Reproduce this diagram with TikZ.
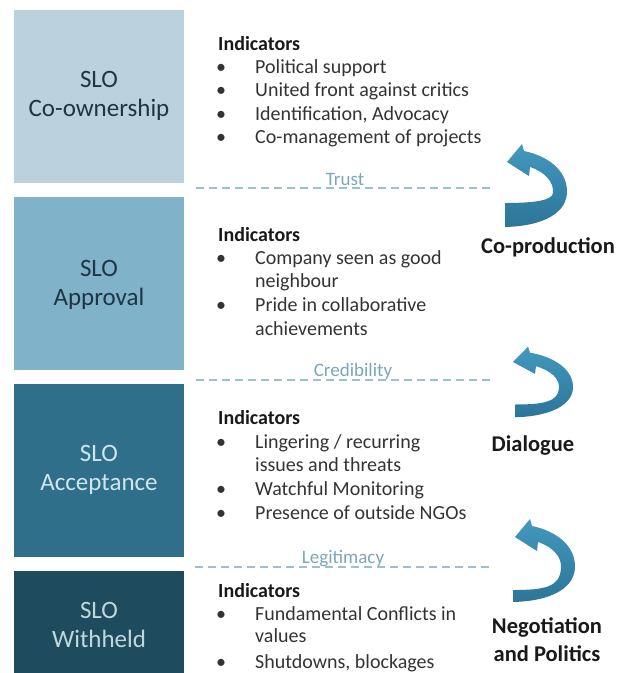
\documentclass[tikz,border=0pt]{standalone}
\usepackage{fontspec}
\setmainfont{Carlito}
\usepackage{tikz}

\definecolor{slo1}{HTML}{BBD2DE}
\definecolor{slo2}{HTML}{80B2C9}
\definecolor{slo3}{HTML}{2F6F89}
\definecolor{slo4}{HTML}{1E4B5D}
\definecolor{darktext}{HTML}{1E3644}
\definecolor{lighttext}{HTML}{CDE6EF}
\definecolor{sepline}{HTML}{9CC0D2}
\definecolor{septext}{HTML}{7AA6BC}
\definecolor{swirltop}{HTML}{4299BE}
\definecolor{swirlbot}{HTML}{2C7599}

\newcommand{\bul}{\makebox[33pt][l]{\kern-6pt\textbullet}}

\begin{document}
\begin{tikzpicture}[x=1pt,y=-1pt]
        \tikzstyle{box}=[minimum width=170pt,minimum height=173pt,inner sep=0pt]
        \tikzstyle{boxtext}=[align=center,font=\fontsize{25}{29}\selectfont]
        \tikzstyle{head}=[anchor=base west,inner sep=0pt,font=\fontsize{20}{23}\selectfont\bfseries,text=black!90]
        \tikzstyle{item}=[anchor=base west,inner sep=0pt,font=\fontsize{20}{23}\selectfont,text=black!80]
        \tikzstyle{sep}=[draw=sepline,line width=1.3pt,dash pattern=on 8pt off 5pt]
        \tikzstyle{level}=[anchor=base,inner sep=0pt,font=\fontsize{19}{22}\selectfont,text=septext]
        \tikzstyle{mode}=[anchor=base,inner sep=0pt,align=center,font=\fontsize{22.5}{28}\selectfont\bfseries,text=black!90]
        \tikzstyle{swirl}=[top color=swirltop,bottom color=swirlbot,draw=none]

        \useasboundingbox (0,0) rectangle (621,673);
        \clip (0,0) rectangle (621,673);

        % SLO levels
        \node[box,fill=slo1](b1) at (99,96.5){};
        \node[box,fill=slo2](b2) at (99,283.5){};
        \node[box,fill=slo3](b3) at (99,470){};
        \node[box,fill=slo4](b4) at (99,657.5){};

        \node[boxtext,text=darktext](s1) at (99,96){SLO\\Co-ownership};
        \node[boxtext,text=darktext](s2) at (99,285){SLO\\Approval};
        \node[boxtext,text=lighttext](s3) at (99,470){SLO\\Acceptance};
        \node[boxtext,text=lighttext!85!gray](s4) at (99,625){SLO\\Withheld};

        % indicators
        \node[head](h1) at (218,50){Indicators};
        \node[item](i11) at (222,73){\bul Political support};
        \node[item](i12) at (222,96){\bul United front against critics};
        \node[item](i13) at (222,120){\bul Identification, Advocacy};
        \node[item](i14) at (222,143){\bul Co-management of projects};

        \node[head](h2) at (218,241){Indicators};
        \node[item](i21) at (222,264){\bul Company seen as good};
        \node[item](i22) at (255,287){neighbour};
        \node[item](i23) at (222,311){\bul Pride in collaborative};
        \node[item](i24) at (255,335){achievements};

        \node[head](h3) at (218,424){Indicators};
        \node[item](i31) at (222,448){\bul Lingering / recurring};
        \node[item](i32) at (255,471){issues and threats};
        \node[item](i33) at (222,495){\bul Watchful Monitoring};
        \node[item](i34) at (222,519){\bul Presence of outside NGOs};

        \node[head](h4) at (218,597){Indicators};
        \node[item](i41) at (222,620){\bul Fundamental Conflicts in};
        \node[item](i42) at (255,642){values};
        \node[item](i43) at (222,668){\bul Shutdowns, blockages};

        % thresholds
        \draw[sep] (196,188) -- (495,188);
        \draw[sep] (196,380) -- (495,380);
        \draw[sep] (195,567) -- (493,567);
        \node[level](t1) at (345,185){Trust};
        \node[level](t2) at (353,376){Credibility};
        \node[level](t3) at (343,563){Legitimacy};

        % swirl arrows
        \foreach \tx/\ty/\sy/\ib/\bx in {507/162/1/41/-2, 513/362/0.85/50/2, 515/537/1/53/-2}
          \path[swirl,shift={(\tx,\ty)},yscale=\sy]
            (\bx,65) .. controls (38,64) and (61,50) .. (60,28)
            .. controls (59,8) and (41,-6) .. (17,-11) -- (15,-18) -- (0,0)
            -- (22,14) -- (23,5) .. controls (38,10) and (47,20) .. (46,31)
            .. controls (45,\ib-3) and (30,\ib) .. (\bx,\ib) -- cycle;

        \node[mode](m1) at (548,253){Co-production};
        \node[mode](m2) at (533,451){Dialogue};
        \node[mode](m3) at (547,661){Negotiation\\and Politics};
\end{tikzpicture}
\end{document}
